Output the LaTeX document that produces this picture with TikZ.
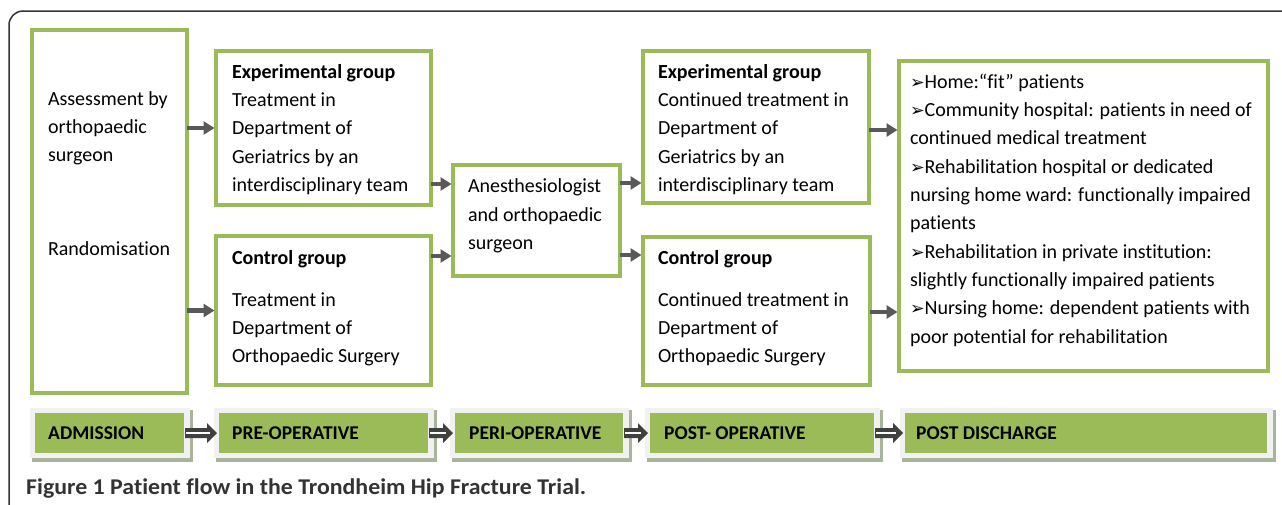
\documentclass[tikz,border=0pt]{standalone}
\usepackage{fontspec}
\setmainfont{Carlito}[Ligatures=NoCommon]
\newfontfamily\dejavu{DejaVu Sans}
\usetikzlibrary{arrows.meta,calc,backgrounds}
\definecolor{grn}{HTML}{9BBB59}
\definecolor{glowc}{HTML}{F1F1F1}
\definecolor{shadc}{HTML}{A9B59B}
\definecolor{arrc}{HTML}{595959}
\definecolor{fatc}{HTML}{404040}
\definecolor{framec}{HTML}{333333}
\definecolor{txtc}{HTML}{000000}
\newcommand\myBody{\fontsize{20}{28.3}\selectfont}
\newcommand\bul{{\dejavu\fontsize{17.5}{28.3}\selectfont ➢}}
\newcommand\fatarr[2]{%
  \fill[fatc] let \p1=(#1.east), \p2=(#2.west) in
    ({\x1+1pt},{\y1+5pt}) -- ({\x2-12pt},{\y1+5pt}) -- ({\x2-12pt},{\y1+10pt})
    -- ({\x2-2pt},\y1) -- ({\x2-12pt},{\y1-10pt}) -- ({\x2-12pt},{\y1-5pt})
    -- ({\x1+1pt},{\y1-5pt}) -- cycle;
  \draw[white, line width=1.3pt] let \p1=(#1.east), \p2=(#2.west) in
    ({\x1+2pt},\y1) -- ({\x2-9pt},\y1);}
\begin{document}
\begin{tikzpicture}[x=1pt,y=-1pt,
  gbox/.style={draw=grn, line width=4pt, fill=white, inner sep=0pt, outer sep=0pt},
  txt/.style={anchor=north west, inner sep=0pt, outer sep=0pt, align=left, font=\myBody, text=txtc},
  arr/.style={draw=arrc, line width=4.5pt, -{Triangle[length=11pt,width=13pt]}, shorten >=1.5pt},
  phase/.style={fill=grn, inner sep=0pt, outer sep=0pt, minimum height=40pt, anchor=north west},
  ptxt/.style={anchor=base west, inner sep=0pt, font=\fontsize{19.5}{23}\selectfont\bfseries, text=black},
  frame/.style={draw=framec, line width=1.5pt, rounded corners=14pt}]
\useasboundingbox (0,0) rectangle (1282,504);
\draw[frame] (9,506) -- (9,11) -- (1284,11);

% boxes
\node[gbox, minimum width=155pt, minimum height=363pt] (A) at (109.5,211.5) {};
\node[gbox, minimum width=215pt, minimum height=154pt] (B) at (323.5,128) {};
\node[gbox, minimum width=215pt, minimum height=149pt] (C) at (323.5,310.5) {};
\node[gbox, minimum width=167pt, minimum height=111pt] (D) at (536.5,220.5) {};
\node[gbox, minimum width=226pt, minimum height=152pt] (E) at (756,127) {};
\node[gbox, minimum width=227pt, minimum height=148pt] (F) at (756.5,311) {};
\node[gbox, minimum width=369pt, minimum height=310pt] (G) at (1083.5,216) {};

% texts
\node[txt] (At) at (48,85.2) {\strut Assessment by\\orthopaedic\\surgeon};
\node[txt] (Ar) at (48,235.2) {\strut Randomisation};
\node[txt] (Bt) at (232,58.5) {\strut\textbf{Experimental group}\\Treatment in\\Department of\\Geriatrics by an\\interdisciplinary team};
\node[txt] (Ct) at (232,244.7) {\strut\textbf{Control group}\\[13.5pt]Treatment in\\Department of\\Orthopaedic Surgery};
\node[txt] (Dt) at (468,172.9) {\strut Anesthesiologist\\and orthopaedic\\surgeon};
\node[txt] (Et) at (658,58.5) {\strut\textbf{Experimental group}\\Continued treatment in\\Department of\\Geriatrics by an\\interdisciplinary team};
\node[txt] (Ft) at (658,244.7) {\strut\textbf{Control group}\\[13.5pt]Continued treatment in\\Department of\\Orthopaedic Surgery};
\node[txt] (Gt) at (910,68.5) {\strut\bul Home:“fit” patients\\
\bul Community hospital: patients in need of\\
continued medical treatment\\
\bul Rehabilitation hospital or dedicated\\
nursing home ward: functionally impaired\\
patients\\
\bul Rehabilitation in private institution:\\
slightly functionally impaired patients\\
\bul Nursing home: dependent patients with\\
poor potential for rehabilitation};

% arrow levels
\coordinate (yBD) at (0,184);
\coordinate (yCD) at (0,256);
\coordinate (yDE) at (0,183);
\coordinate (yDF) at (0,255);
\coordinate (yEG) at (0,130);
\coordinate (yFG) at (0,312);

\draw[arr] (A.east |- B.west) -- (B.west);
\draw[arr] (A.east |- C.west) -- (C.west);
\draw[arr] (B.east |- yBD) -- (D.west |- yBD);
\draw[arr] (C.east |- yCD) -- (D.west |- yCD);
\draw[arr] (D.east |- yDE) -- (E.west |- yDE);
\draw[arr] (D.east |- yDF) -- (F.west |- yDF);
\draw[arr] (E.east |- yEG) -- (G.west |- yEG);
\draw[arr] (F.east |- yFG) -- (G.west |- yFG);

% phases
\node[phase, minimum width=149pt] (p1) at (35,413) {};
\node[phase, minimum width=209pt] (p2) at (219,413) {};
\node[phase, minimum width=168pt] (p3) at (455,413) {};
\node[phase, minimum width=224pt] (p4) at (650,413) {};
\node[phase, minimum width=362pt] (p5) at (905,413) {};
\begin{scope}[on background layer]
\foreach \p in {p1,p2,p3,p4,p5}{
  \fill[shadc] ($(\p.north west)+(-3,-3)$) rectangle ($(\p.south east)+(9,9)$);
  \fill[glowc] ($(\p.north west)+(-5,-5)$) rectangle ($(\p.south east)+(6,5)$);
}
\end{scope}
\node[ptxt] (t1) at (48,439) {ADMISSION};
\node[ptxt] (t2) at (232,439) {PRE-OPERATIVE};
\node[ptxt] (t3) at (469,439) {PERI-OPERATIVE};
\node[ptxt] (t4) at (664,439) {POST- OPERATIVE};
\node[ptxt] (t5) at (916,439) {POST DISCHARGE};
\fatarr{p1}{p2}
\fatarr{p2}{p3}
\fatarr{p3}{p4}
\fatarr{p4}{p5}

% caption
\node[anchor=base west, inner sep=0pt, font=\fontsize{22.5}{26}\selectfont\bfseries, text=framec] (cap) at (26,494) {\scalebox{1.06}[1]{Figure 1 Patient flow in the Trondheim Hip Fracture Trial.}};
\end{tikzpicture}
\end{document}
